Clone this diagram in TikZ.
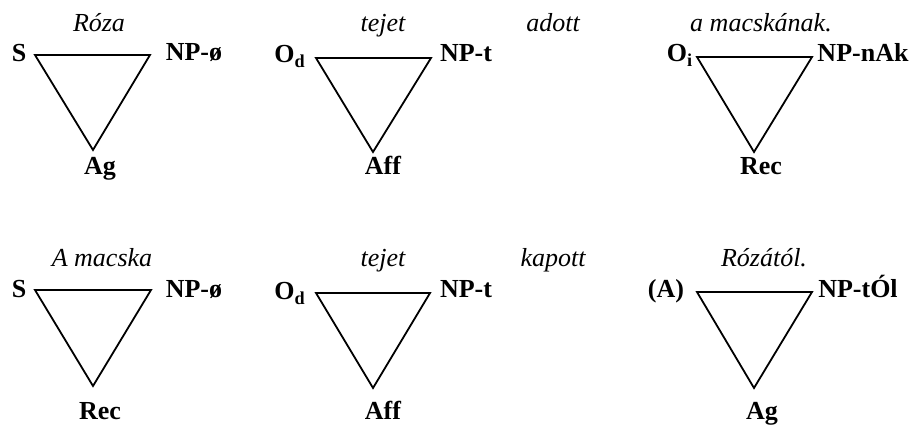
\documentclass[tikz,border=0pt]{standalone}
\usepackage{fontspec}
\setmainfont{Liberation Serif}
\usetikzlibrary{positioning}
\tikzset{
  role/.style={font=\fontsize{13}{15}\selectfont\bfseries,inner sep=0pt,anchor=base},
  word/.style={font=\fontsize{13}{15}\selectfont\itshape,inner sep=0pt,anchor=base},
  tri/.style={line width=.9pt,line join=miter}
}
\begin{document}
\begin{tikzpicture}[x=.5pt,y=-.5pt]
\useasboundingbox (0,0) rectangle (912,427);
\coordinate (t1l) at (35,55);  \coordinate (t1r) at (150,55);  \coordinate (t1b) at (93,150);
\coordinate (t2l) at (316,58); \coordinate (t2r) at (431,58);  \coordinate (t2b) at (373,152);
\coordinate (t3l) at (697,57); \coordinate (t3r) at (812,57);  \coordinate (t3b) at (754,152);
\coordinate (t4l) at (35,290); \coordinate (t4r) at (151,290); \coordinate (t4b) at (93,386);
\coordinate (t5l) at (316,293);\coordinate (t5r) at (430,293); \coordinate (t5b) at (373,388);
\coordinate (t6l) at (697,292);\coordinate (t6r) at (812,292); \coordinate (t6b) at (754,388);
\foreach \t in {t1,t2,t3,t4,t5,t6}
  \draw[tri] (\t l) -- (\t r) -- (\t b) -- cycle;
\node[word] (roza) at (99,32) {Róza};
\node[word] (tejet1) at (383,32) {tejet};
\node[word] (adott) at (553,32) {adott};
\node[word] (macskanak) at (761,32) {a macskának.};
\node[role] (s1) at (19,62) {S};
\node[role] (np1) at (194,61) {NP-ø};
\node[role] (ag1) at (100,175) {Ag};
\node[role] (od1) at (290,63) {O\textsubscript{d}};
\node[role] (np2) at (466,62) {NP-t};
\node[role] (aff1) at (383,175) {Aff};
\node[role] (oi) at (680,62) {O\textsubscript{i}};
\node[role] (np3) at (863,62) {NP-nAk};
\node[role] (rec1) at (761,175) {Rec};
\node[word] (macska) at (102,267) {A macska};
\node[word] (tejet2) at (383,267) {tejet};
\node[word] (kapott) at (553,267) {kapott};
\node[word] (rozatol) at (764,267) {Rózától.};
\node[role] (s2) at (19,298) {S};
\node[role] (np4) at (194,298) {NP-ø};
\node[role] (rec2) at (100,420) {Rec};
\node[role] (od2) at (290,300) {O\textsubscript{d}};
\node[role] (np5) at (466,298) {NP-t};
\node[role] (aff2) at (383,420) {Aff};
\node[role] (a) at (666,298) {(A)};
\node[role] (np6) at (858,298) {NP-tÓl};
\node[role] (ag2) at (762,420) {Ag};
\end{tikzpicture}
\end{document}
